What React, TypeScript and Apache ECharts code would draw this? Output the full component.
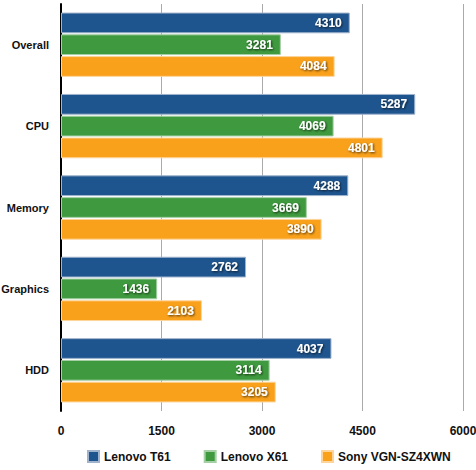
import React, { useEffect, useRef } from "react";
import * as echarts from "echarts";

const categories = ["Overall", "CPU", "Memory", "Graphics", "HDD"];
const seriesNames = ["Lenovo T61", "Lenovo X61", "Sony VGN-SZ4XWN"];
const lenovoT61 = [4310, 5287, 4288, 2762, 4037];
const lenovoX61 = [3281, 4069, 3669, 1436, 3114];
const sonyVGN = [4084, 4801, 3890, 2103, 3205];
const tickLabels = ["0", "1500", "3000", "4500", "6000"];
const colors = ["#1f558e", "#3f9a3f", "#f9a11b"];
const borders = ["#9fb3cc", "#a5cfa5", "#fdd49a"];

const FONT = "'Liberation Sans Narrow', 'Arial Narrow', 'Liberation Sans', sans-serif";

export default function App() {
  const ref = useRef<HTMLDivElement>(null);
  useEffect(() => {
    if (!ref.current) return;
    const chart = echarts.init(ref.current, undefined, { renderer: "svg" });
    const data = [lenovoT61, lenovoX61, sonyVGN];
    chart.setOption({
      animation: false,
      grid: { left: 61, right: 13, top: 4, bottom: 59, outerBoundsMode: "none", containLabel: false },
      legend: {
        data: seriesNames,
        left: 82,
        top: 445,
        width: 420,
        itemWidth: 11,
        itemHeight: 11,
        itemGap: 33,
        icon: "rect",
        textStyle: { fontFamily: FONT, fontWeight: "bold", fontSize: 12, color: "#111" },
      },
      xAxis: {
        type: "value",
        min: 0,
        max: 6000,
        interval: 1500,
        axisLine: { show: false },
        axisTick: { show: false },
        splitLine: { lineStyle: { color: "#aaaaaa", width: 1 } },
        axisLabel: {
          fontFamily: FONT,
          fontWeight: "bold",
          fontSize: 12,
          color: "#111",
          margin: 14,
          formatter: (v: number) => tickLabels[Math.round(v / 1500)] ?? String(v),
        },
      },
      yAxis: {
        type: "category",
        data: categories,
        inverse: true,
        axisLine: { lineStyle: { color: "#000", width: 2 } },
        axisTick: { show: false },
        axisLabel: { fontFamily: FONT, fontWeight: "bold", fontSize: 11, color: "#111", margin: 12 },
      },
      series: seriesNames.map((name, i) => ({
        name,
        type: "bar",
        data: data[i],
        barGap: "5%",
        barCategoryGap: "21%",
        itemStyle: { color: colors[i], borderColor: borders[i], borderWidth: 1 },
        label: {
          show: true,
          position: "insideRight",
          distance: 8,
          color: "#fff",
          fontFamily: FONT,
          fontWeight: "bold",
          fontSize: 12,
          textShadowColor: "rgba(0,0,0,0.7)",
          textShadowBlur: 2,
          textShadowOffsetX: 1,
          textShadowOffsetY: 1,
        },
      })),
    });
    return () => chart.dispose();
  }, []);
  return <div ref={ref} style={{ width: 476, height: 470, position: "absolute", left: 0, top: 0 }} />;
}
